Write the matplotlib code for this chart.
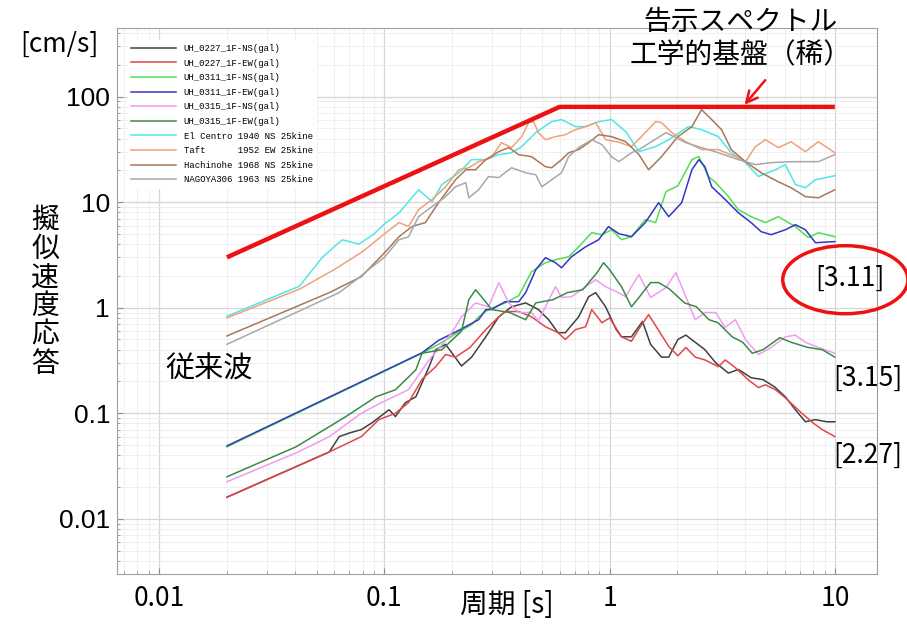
import matplotlib
matplotlib.use("Agg")
import matplotlib.pyplot as plt
from matplotlib.patches import Ellipse

# periods [s] / pseudo velocity response [cm/s]
t_ns0227 = [0.02, 0.057, 0.063, 0.07, 0.079, 0.088, 0.105, 0.112, 0.124, 0.138,
            0.158, 0.169, 0.187, 0.22, 0.244, 0.282, 0.322, 0.367, 0.424, 0.483,
            0.536, 0.59, 0.636, 0.729, 0.807, 0.867, 0.96, 1.07, 1.13, 1.25,
            1.40, 1.52, 1.70, 1.83, 2.01, 2.18, 2.40, 2.65, 2.96, 3.37,
            3.73, 4.25, 4.8, 5.4, 6.03, 6.68, 7.40, 8.2, 9.2, 10]
v_ns0227 = [0.016, 0.043, 0.060, 0.065, 0.070, 0.081, 0.108, 0.093, 0.126, 0.143,
            0.276, 0.40, 0.45, 0.28, 0.34, 0.53, 0.82, 1.02, 1.11, 0.96,
            0.77, 0.58, 0.58, 0.82, 1.27, 1.39, 1.02, 0.62, 0.53, 0.53,
            0.74, 0.45, 0.34, 0.34, 0.50, 0.55, 0.47, 0.40, 0.30, 0.24,
            0.26, 0.217, 0.208, 0.178, 0.143, 0.108, 0.083, 0.087, 0.083, 0.083]

t_ew0227 = [0.02, 0.057, 0.079, 0.0946, 0.112, 0.128, 0.147, 0.169, 0.187, 0.207,
            0.24, 0.282, 0.322, 0.344, 0.395, 0.45, 0.519, 0.59, 0.636, 0.706,
            0.783, 0.833, 0.925, 1.0, 1.13, 1.25, 1.35, 1.49, 1.65, 1.83,
            2.01, 2.18, 2.40, 2.65, 3.04, 3.26, 3.62, 4.12, 4.58, 4.92,
            5.45, 6.03, 7.1, 8.0, 8.8, 10]
v_ew0227 = [0.016, 0.043, 0.060, 0.087, 0.10, 0.126, 0.21, 0.276, 0.36, 0.34,
            0.42, 0.62, 0.82, 0.92, 0.92, 0.82, 0.66, 0.58, 0.50, 0.62,
            0.66, 0.96, 0.72, 0.80, 0.53, 0.48, 0.63, 0.86, 0.61, 0.43,
            0.35, 0.42, 0.34, 0.32, 0.276, 0.32, 0.27, 0.208, 0.175, 0.186,
            0.167, 0.140, 0.101, 0.081, 0.070, 0.060]

t_ns0311 = [0.02, 0.147, 0.174, 0.214, 0.244, 0.262, 0.29, 0.344, 0.395, 0.45,
            0.519, 0.575, 0.658, 0.729, 0.833, 0.925, 1.02, 1.13, 1.25, 1.44,
            1.60, 1.78, 2.01, 2.32, 2.49, 2.75, 2.96, 3.37, 3.73, 4.25,
            4.92, 5.61, 6.68, 7.63, 8.45, 10]
v_ns0311 = [0.048, 0.37, 0.45, 0.59, 0.69, 0.82, 0.96, 1.11, 1.30, 2.19,
            2.67, 2.85, 3.04, 3.78, 5.14, 4.92, 5.48, 4.41, 4.71, 6.83,
            6.40, 12.6, 14.3, 25.3, 27.1, 17.5, 15.3, 11.3, 8.49, 7.29,
            6.40, 7.29, 5.87, 4.61, 5.14, 4.71]

t_ew0311 = [0.02, 0.147, 0.174, 0.214, 0.262, 0.282, 0.298, 0.344, 0.395, 0.424,
            0.47, 0.519, 0.575, 0.612, 0.677, 0.783, 0.894, 0.989, 1.10, 1.25,
            1.44, 1.65, 1.83, 2.09, 2.32, 2.49, 2.65, 2.84, 3.26, 3.73,
            4.25, 4.71, 5.22, 6.03, 6.68, 7.40, 8.20, 10]
v_ew0311 = [0.049, 0.374, 0.49, 0.61, 0.77, 0.96, 0.96, 1.14, 1.14, 1.39,
            2.29, 2.98, 2.67, 2.39, 3.04, 3.78, 4.41, 5.87, 5.02, 4.71,
            6.40, 9.89, 7.29, 9.89, 20.3, 25.3, 21.7, 14.0, 10.6, 7.94,
            6.40, 5.25, 4.92, 5.48, 6.12, 5.48, 4.13, 4.23]

t_ns0315 = [0.02, 0.0405, 0.057, 0.079, 0.097, 0.128, 0.158, 0.193, 0.207, 0.22,
            0.254, 0.29, 0.322, 0.357, 0.395, 0.45, 0.483, 0.519, 0.575, 0.612,
            0.677, 0.783, 0.867, 0.96, 1.07, 1.18, 1.25, 1.35, 1.52, 1.78,
            1.97, 2.18, 2.40, 2.65, 2.96, 3.26, 3.62, 4.01, 4.58, 5.22,
            6.03, 6.68, 7.40, 8.45, 10]
v_ns0315 = [0.0224, 0.042, 0.060, 0.10, 0.126, 0.167, 0.32, 0.53, 0.66, 0.82,
            1.11, 1.02, 1.73, 1.11, 0.90, 0.90, 0.75, 1.02, 1.58, 1.25,
            1.27, 1.58, 1.84, 1.58, 1.42, 1.27, 1.58, 2.06, 1.25, 1.55,
            2.15, 1.27, 0.77, 0.90, 0.90, 0.65, 0.77, 0.50, 0.36, 0.42,
            0.53, 0.55, 0.47, 0.42, 0.37]

t_ew0315 = [0.02, 0.0405, 0.0675, 0.0917, 0.112, 0.138, 0.147, 0.18, 0.22, 0.237,
            0.254, 0.27, 0.30, 0.36, 0.424, 0.47, 0.56, 0.65, 0.76, 0.88,
            0.94, 1.0, 1.13, 1.25, 1.35, 1.52, 1.65, 1.84, 2.15, 2.43,
            2.76, 3.03, 3.5, 3.9, 4.3, 4.8, 5.7, 6.4, 7.6, 8.8, 10]
v_ew0315 = [0.025, 0.048, 0.093, 0.143, 0.167, 0.258, 0.37, 0.40, 0.60, 1.19,
            1.48, 1.27, 0.96, 0.90, 0.77, 1.11, 1.19, 1.39, 1.48, 2.15,
            2.67, 2.29, 1.58, 1.02, 1.25, 1.73, 1.73, 1.51, 1.11, 1.02,
            0.77, 0.72, 0.53, 0.47, 0.37, 0.40, 0.52, 0.47, 0.42, 0.40, 0.34]

t_elcentro = [0.02, 0.042, 0.053, 0.065, 0.077, 0.09, 0.10, 0.116, 0.142, 0.163,
              0.18, 0.214, 0.244, 0.282, 0.322, 0.367, 0.407, 0.47, 0.553, 0.612,
              0.706, 0.783, 0.894, 1.02, 1.18, 1.35, 1.60, 1.83, 2.24, 2.56,
              3.04, 3.47, 4.01, 4.58, 5.45, 6.03, 6.68, 7.40, 8.20, 10]
v_elcentro = [0.83, 1.6, 3.0, 4.4, 4.0, 5.0, 6.2, 7.9, 13.1, 10.1,
              14.7, 19.0, 25.3, 25.3, 28.2, 29.4, 33.6, 45.6, 58.0, 60.6,
              52.0, 52.0, 58.0, 60.6, 46.6, 30.1, 33.6, 39.1, 52.0, 48.7,
              41.8, 29.4, 23.7, 17.5, 20.3, 22.7, 14.7, 13.7, 16.3, 17.8]

t_taft = [0.02, 0.042, 0.06, 0.08, 0.10, 0.116, 0.128, 0.142, 0.163, 0.187,
          0.214, 0.237, 0.262, 0.298, 0.331, 0.367, 0.407, 0.437, 0.459, 0.483,
          0.519, 0.575, 0.636, 0.706, 0.783, 0.867, 0.960, 1.10, 1.25, 1.44,
          1.60, 1.70, 1.89, 2.18, 2.56, 3.04, 3.62, 4.01, 4.44, 4.92,
          5.61, 6.40, 7.40, 8.45, 10]
v_taft = [0.8, 1.5, 2.3, 3.4, 5.0, 6.4, 5.9, 8.5, 10.6, 14.0,
          20.3, 21.2, 24.2, 26.4, 36.6, 32.9, 41.8, 56.7, 58.0, 45.6,
          39.1, 41.8, 43.6, 48.7, 52.0, 56.7, 39.1, 37.0, 33.6, 45.6,
          58.0, 56.7, 45.6, 37.4, 31.5, 31.5, 27.0, 24.2, 33.6, 39.1,
          32.9, 37.4, 30.1, 37.4, 29.4]

t_hachinohe = [0.02, 0.057, 0.079, 0.10, 0.116, 0.133, 0.152, 0.174, 0.207, 0.230,
               0.254, 0.282, 0.322, 0.357, 0.395, 0.450, 0.519, 0.553, 0.612, 0.658,
               0.729, 0.807, 0.894, 1.02, 1.18, 1.35, 1.49, 1.70, 2.01, 2.32,
               2.56, 2.84, 3.14, 3.47, 4.01, 4.71, 5.61, 6.40, 7.40, 8.45, 10]
v_hachinohe = [0.54, 1.39, 1.97, 3.3, 4.7, 5.9, 6.4, 9.9, 16.3, 20.3,
               20.3, 25.3, 30.1, 32.9, 28.2, 27.0, 21.7, 21.2, 25.3, 29.4,
               31.5, 36.6, 43.6, 41.8, 37.4, 28.2, 20.3, 27.0, 41.8, 52.0,
               75.4, 60.6, 48.7, 31.5, 24.2, 19.0, 15.6, 13.7, 11.3, 11.0, 13.1]

t_nagoya = [0.02, 0.0405, 0.063, 0.075, 0.085, 0.10, 0.116, 0.128, 0.142, 0.163,
            0.187, 0.207, 0.230, 0.237, 0.262, 0.290, 0.322, 0.367, 0.424, 0.470,
            0.500, 0.553, 0.612, 0.658, 0.729, 0.833, 0.925, 1.02, 1.10, 1.25,
            1.35, 1.78, 2.18, 2.56, 3.04, 3.73, 4.44, 5.22, 6.40, 8.45, 10]
v_nagoya = [0.45, 0.90, 1.39, 1.84, 2.29, 3.0, 4.4, 4.7, 7.3, 9.1,
            11.3, 14.0, 15.3, 11.0, 13.1, 17.5, 17.1, 21.2, 19.0, 18.2,
            14.0, 16.3, 19.0, 27.0, 32.9, 39.1, 35.1, 27.0, 24.2, 29.4,
            31.5, 45.6, 36.6, 32.9, 29.4, 25.3, 22.7, 23.7, 24.2, 24.2, 28.2]

# notification spectrum (engineering bedrock, rare)
t_kokuji = [0.02, 0.6, 10]
v_kokuji = [3.0, 80, 80]

series = [
    (t_ns0227, v_ns0227, "UH_0227_1F-NS(gal)", "#404040"),
    (t_ew0227, v_ew0227, "UH_0227_1F-EW(gal)", "#e04848"),
    (t_ns0311, v_ns0311, "UH_0311_1F-NS(gal)", "#4ee04e"),
    (t_ew0311, v_ew0311, "UH_0311_1F-EW(gal)", "#3535c5"),
    (t_ns0315, v_ns0315, "UH_0315_1F-NS(gal)", "#f09cf0"),
    (t_ew0315, v_ew0315, "UH_0315_1F-EW(gal)", "#3a8a48"),
    (t_elcentro, v_elcentro, "El Centro 1940 NS 25kine", "#50e6e6"),
    (t_taft, v_taft, "Taft      1952 EW 25kine", "#f0a07a"),
    (t_hachinohe, v_hachinohe, "Hachinohe 1968 NS 25kine", "#a87858"),
    (t_nagoya, v_nagoya, "NAGOYA306 1963 NS 25kine", "#a8a8a8"),
]

jp = ["Noto Sans CJK JP", "DejaVu Sans"]

fig = plt.figure(figsize=(9.07, 6.3), dpi=100)
ax = fig.add_axes([0.129, 0.089, 0.838, 0.867])

for t, v, name, col in series:
    ax.plot(t, v, color=col, lw=1.1, label=name)

ax.plot(t_kokuji, v_kokuji, color="#ee1111", lw=3.2, solid_capstyle="butt")
ax.annotate("", xy=(3.9, 80), xytext=(5.0, 150),
            arrowprops=dict(arrowstyle="->", color="#ee1111", lw=1.8, mutation_scale=20))

ax.set_xscale("log")
ax.set_yscale("log")
ax.set_xlim(0.0065, 15.4)
ax.set_ylim(0.003, 450)

ax.grid(which="major", color="#d6d6d6", lw=0.9)
ax.grid(which="minor", color="#ececec", lw=0.6)
ax.set_axisbelow(True)
for s in ax.spines.values():
    s.set_color("#a0a0a0")
ax.tick_params(which="both", direction="in", color="#909090")
ax.tick_params(which="major", length=4)
ax.tick_params(which="minor", length=2.5)

ax.set_xticks([0.01, 0.1, 1, 10])
ax.set_xticklabels(["0.01", "0.1", "1", "10"], family=jp, fontsize=19)
ax.set_yticks([0.01, 0.1, 1, 10, 100])
ax.set_yticklabels(["0.01", "0.1", "1", "10", "100"], family="Liberation Sans", fontsize=19)
ax.tick_params(axis="x", pad=8)
ax.tick_params(axis="y", pad=5)

leg = ax.legend(loc="upper left", bbox_to_anchor=(0.008, 0.985),
                prop={"family": "Liberation Mono", "size": 6.5},
                handlelength=5, labelspacing=0.62, handletextpad=0.8,
                frameon=True, fancybox=False, edgecolor="white", framealpha=1)

fig.text(0.066, 0.929, "[cm/s]", family=jp, fontsize=19, ha="center", va="center")
fig.text(0.05, 0.537, "擬\n似\n速\n度\n応\n答", family=jp, fontsize=20,
         ha="center", va="center", linespacing=0.95)
fig.text(0.182, 0.413, "従来波", family=jp, fontsize=21, ha="left", va="center")
fig.text(0.816, 0.938, "告示スペクトル\n工学的基盤（稀）", family=jp, fontsize=20,
         ha="center", va="center", linespacing=1.15)
fig.text(0.559, 0.04, "周期 [s]", family=jp, fontsize=20, ha="center", va="center")
fig.text(0.937, 0.559, "[3.11]", family=jp, fontsize=19, ha="center", va="center")
fig.text(0.957, 0.40, "[3.15]", family=jp, fontsize=19, ha="center", va="center")
fig.text(0.957, 0.278, "[2.27]", family=jp, fontsize=19, ha="center", va="center")

fig.add_artist(Ellipse((0.932, 0.556), 0.138, 0.108, transform=fig.transFigure,
                       fill=False, edgecolor="#ee1111", lw=2.5))

fig.savefig("out.png", dpi=100)
